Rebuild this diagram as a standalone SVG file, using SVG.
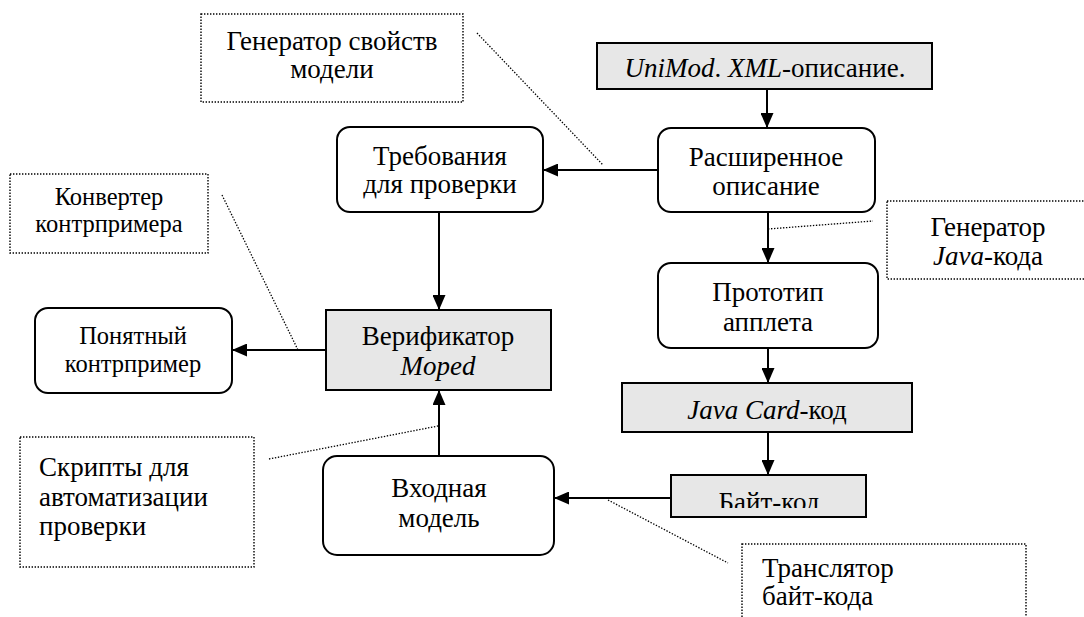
<svg xmlns="http://www.w3.org/2000/svg" width="1084" height="617" viewBox="0 0 1084 617">
<style>
  .t { font-family: "Liberation Serif", "DejaVu Serif", serif; font-size: 27px; fill: #000; }
  .m { text-anchor: middle; }
  .s { font-size: 24.5px; }
  .i { font-style: italic; }
  .box { fill: #fff; stroke: #000; stroke-width: 2; }
  .gray { fill: #e7e7e7; stroke: #000; stroke-width: 2; }
  .note { fill: #fff; stroke: #000; stroke-width: 1.4; stroke-dasharray: 1.4 1.6; }
  .edge { fill: none; stroke: #000; stroke-width: 2; }
  .lead { fill: none; stroke: #000; stroke-width: 1.3; stroke-dasharray: 1.4 1.6; }
</style>
<defs>
  <marker id="ah" viewBox="0 0 15 13" refX="15" refY="6.5" markerWidth="15" markerHeight="13" markerUnits="userSpaceOnUse" orient="auto">
    <path d="M0,0 L15,6.5 L0,13 z" fill="#000"/>
  </marker>
  <clipPath id="bclip"><rect x="671" y="475" width="196" height="33"/></clipPath>
</defs>
<rect width="1084" height="617" fill="#fff"/>

<g id="n-genprop">
  <rect class="note" x="201" y="14" width="262" height="88"/>
  <text class="t m" x="332" y="50">Генератор свойств</text>
  <text class="t m" x="332" y="78">модели</text>
</g>
<g id="n-unimod">
  <rect class="gray" x="597" y="43" width="335" height="46"/>
  <text class="t m" x="765" y="77"><tspan class="i">UniMod</tspan>. <tspan class="i">XML</tspan>-описание.</text>
</g>
<g id="n-ext">
  <rect class="box" x="658" y="128" width="217" height="84" rx="13"/>
  <text class="t m" x="766" y="166">Расширенное</text>
  <text class="t m" x="766" y="195">описание</text>
</g>
<g id="n-req">
  <rect class="box" x="337" y="127" width="206" height="85" rx="13"/>
  <text class="t m" x="440" y="165">Требования</text>
  <text class="t m" x="440" y="193">для проверки</text>
</g>
<g id="n-conv">
  <rect class="note" x="10" y="174" width="198" height="79"/>
  <text class="t m s" x="109" y="205">Конвертер</text>
  <text class="t m s" x="109" y="232">контрпримера</text>
</g>
<g id="n-genjava">
  <rect class="note" x="887" y="201" width="202" height="78"/>
  <text class="t m" x="988" y="236">Генератор</text>
  <text class="t m" x="988" y="265"><tspan class="i">Java</tspan>-кода</text>
</g>
<g id="n-proto">
  <rect class="box" x="658" y="263" width="220" height="85" rx="13"/>
  <text class="t m" x="768" y="301">Прототип</text>
  <text class="t m" x="768" y="331">апплета</text>
</g>
<g id="n-cex">
  <rect class="box" x="35" y="308" width="197" height="85" rx="13"/>
  <text class="t m s" x="133" y="344">Понятный</text>
  <text class="t m s" x="133" y="372">контрпример</text>
</g>
<g id="n-moped">
  <rect class="gray" x="326" y="310" width="225" height="80"/>
  <text class="t m" x="438" y="345">Верификатор</text>
  <text class="t m i" x="438" y="375">Moped</text>
</g>
<g id="n-jcard">
  <rect class="gray" x="622" y="383" width="290" height="49"/>
  <text class="t m" x="767" y="419"><tspan class="i">Java Card</tspan>-код</text>
</g>
<g id="n-scripts">
  <rect class="note" x="20" y="437" width="234" height="130"/>
  <text class="t" x="39" y="476">Скрипты для</text>
  <text class="t" x="39" y="506">автоматизации</text>
  <text class="t" x="39" y="535">проверки</text>
</g>
<g id="n-input">
  <rect class="box" x="323" y="456" width="231" height="99" rx="14"/>
  <text class="t m" x="439" y="497">Входная</text>
  <text class="t m" x="439" y="527">модель</text>
</g>
<g id="n-byte">
  <rect class="gray" x="671" y="475" width="195" height="42"/>
  <text class="t m" x="769" y="511" clip-path="url(#bclip)">Байт-код</text>
</g>
<g id="n-trans">
  <rect class="note" x="742" y="544" width="284" height="90"/>
  <text class="t" x="762" y="577">Транслятор</text>
  <text class="t" x="762" y="605">байт-кода</text>
</g>

<g id="connectors">
  <line class="edge" x1="767" y1="89" x2="767" y2="128" marker-end="url(#ah)"/>
  <line class="edge" x1="658" y1="170" x2="543" y2="170" marker-end="url(#ah)"/>
  <line class="edge" x1="439" y1="212" x2="439" y2="310" marker-end="url(#ah)"/>
  <line class="edge" x1="326" y1="350" x2="232" y2="350" marker-end="url(#ah)"/>
  <line class="edge" x1="439" y1="456" x2="439" y2="390" marker-end="url(#ah)"/>
  <line class="edge" x1="768" y1="212" x2="768" y2="263" marker-end="url(#ah)"/>
  <line class="edge" x1="768" y1="348" x2="768" y2="383" marker-end="url(#ah)"/>
  <line class="edge" x1="768" y1="432" x2="768" y2="475" marker-end="url(#ah)"/>
  <line class="edge" x1="671" y1="498" x2="554" y2="498" marker-end="url(#ah)"/>
  <line class="lead" x1="477" y1="33" x2="603" y2="165"/>
  <line class="lead" x1="222" y1="195" x2="298" y2="350"/>
  <line class="lead" x1="768" y1="229" x2="873" y2="221"/>
  <line class="lead" x1="269" y1="459" x2="438" y2="426"/>
  <line class="lead" x1="608" y1="500" x2="728" y2="563"/>
</g>
</svg>
